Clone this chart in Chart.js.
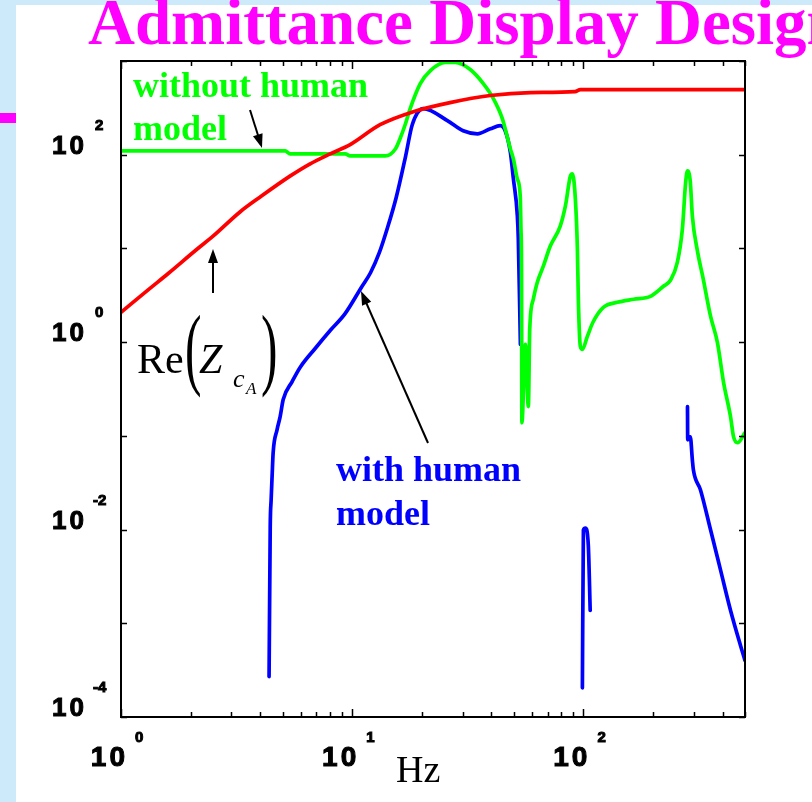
<!DOCTYPE html>
<html><head><meta charset="utf-8">
<script src="https://cdn.jsdelivr.net/npm/chart.js@4.4.1/dist/chart.umd.min.js"></script>
<style>html,body{margin:0;padding:0;background:#fff;overflow:hidden}canvas{display:block}</style>
</head><body>
<canvas id="c" width="812" height="802"></canvas>
<script>
// ---- data ----
const redHz  = [1, 1.33, 1.6, 2.13, 2.5, 3.27, 4.0, 5.4, 6.58, 8.03, 9.8, 13.2, 18.4, 26.5, 39.5, 59, 92, 97, 195, 500];
const redRe  = [2.08, 3.72, 5.4, 9.8, 13.5, 24.5, 35.4, 59.4, 80, 102, 128, 209, 288, 360, 428, 460, 472, 496, 496, 496];

const greenHz  = [1, 5.13, 5.39, 9.33, 9.8, 13.9, 15.4, 16.1, 17.0, 17.8, 19.7, 21.8, 25.3, 27.9, 32.4, 36.9, 40.8, 44.6, 48.3, 49.8, 51.8, 53.3, 53.7, 54.0, 54.2, 56.1, 57.8, 58.6, 60.7, 63.2, 67.1, 71.9, 79.4, 83.6, 87.9, 89.6, 92.3, 94.2, 95.1, 97.0, 99.0, 104, 110, 122, 140, 165, 195, 222, 238, 255, 268, 277, 282, 290, 296, 312, 328, 355, 380, 404, 433, 446, 464, 500];
const greenAdm = [110, 110, 102, 102, 97, 97, 116, 148, 214, 309, 574, 791, 964, 964, 811, 574, 397, 243, 116, 90, 55, 36.3, 16.1, 6.46, 0.138, 0.95, 0.205, 1.37, 2.86, 4.36, 6.46, 10.6, 17.3, 28.4, 59.4, 62.5, 33.7, 9.84, 2.87, 0.9, 0.835, 1.15, 1.63, 2.35, 2.66, 2.87, 3.08, 3.95, 4.58, 7.13, 16.1, 51.3, 67.3, 51.3, 22.1, 9.12, 5.05, 1.88, 0.99, 0.37, 0.16, 0.098, 0.0844, 0.108];

// null values break the blue line into its three visible pieces
const blueHz  = [4.37, 4.42, 4.46, 4.51, 4.55, 4.73, 4.88, 5.03, 5.5, 5.96, 6.9, 8.03, 9.3, 11.0, 12.0, 13.1, 14.2, 15.5, 17.0, 18.2, 20.3, 25.8, 30.2, 34.8, 39.6, 43.7, 45.9, 48.3, 49.8, 51.8, 52.3, 53.4,
                 75,
                 99.0, 100, 102, 105, 107,
                 200,
                 282, 282.6, 290, 296, 299, 321, 355, 392, 433, 478, 500];
const blueAdm = [2.7e-4, 0.0106, 0.0207, 0.0403, 0.066, 0.116, 0.16, 0.244, 0.38, 0.54, 0.85, 1.33, 2.0, 3.9, 5.5, 9.0, 16.5, 35, 95, 210, 310, 231, 180, 167, 189, 204, 180, 107, 55.2, 22.2, 12.6, 0.945,
                 null,
                 2.05e-4, 0.00989, 0.0104, 0.00683, 0.00137,
                 null,
                 0.205, 0.0908, 0.0978, 0.0555, 0.0434, 0.0265, 0.00989, 0.00369, 0.00137, 5.8e-4, 4.0e-4];

const xRange = [1, 500];
const yRange = [1e-4, 1e3];
const xLabelExps = [0, 1, 2];
const yLabelExps = [2, 0, -2, -4];
const yTickExps = [-4, -3, -2, -1, 0, 1, 2, 3];
const xTickDecades = [0, 1, 2];
const title = 'Admittance Display Design';

// ---- helpers ----
const pts = (xs, ys) => xs.map((x, i) => ({x: x, y: ys[i]}));
function arrow(ctx, x1, y1, x2, y2) {
  const ang = Math.atan2(y2 - y1, x2 - x1), L = 14, W = 5;
  ctx.beginPath(); ctx.moveTo(x1, y1);
  ctx.lineTo(x2 - Math.cos(ang) * L * 0.8, y2 - Math.sin(ang) * L * 0.8); ctx.stroke();
  ctx.beginPath(); ctx.moveTo(x2, y2);
  ctx.lineTo(x2 - Math.cos(ang) * L - Math.sin(ang) * W, y2 - Math.sin(ang) * L + Math.cos(ang) * W);
  ctx.lineTo(x2 - Math.cos(ang) * L + Math.sin(ang) * W, y2 - Math.sin(ang) * L - Math.cos(ang) * W);
  ctx.closePath(); ctx.fill();
}
function heavyText(ctx, s, x, y) { ctx.fillText(s, x, y); ctx.strokeText(s, x, y); }

const decor = {
  id: 'decor',
  beforeDraw(chart) {
    const ctx = chart.ctx;
    ctx.save();
    ctx.fillStyle = '#ffffff'; ctx.fillRect(0, 0, chart.width, chart.height);
    ctx.fillStyle = '#cdeafb';
    ctx.fillRect(0, 0, 16, chart.height);
    ctx.fillRect(0, 0, chart.width, 5);
    ctx.fillStyle = '#ff00ff';
    ctx.fillRect(0, 113, 16, 10);
    ctx.font = 'bold 65px "Liberation Serif", "Times New Roman", serif';
    ctx.textBaseline = 'alphabetic'; ctx.textAlign = 'left';
    ctx.fillText(title, 88, 44);
    ctx.restore();
  },
  afterDraw(chart) {
    const ctx = chart.ctx, a = chart.chartArea, xs = chart.scales.x, ys = chart.scales.y;
    ctx.save();
    // frame
    ctx.strokeStyle = '#000'; ctx.lineWidth = 2;
    ctx.strokeRect(a.left, a.top, a.right - a.left, a.bottom - a.top);
    // ticks (inward)
    ctx.lineWidth = 1.5;
    ctx.beginPath();
    yTickExps.forEach(e => {
      const py = Math.round(ys.getPixelForValue(Math.pow(10, e))) + 0.5;
      ctx.moveTo(a.left, py); ctx.lineTo(a.left + 6, py);
      ctx.moveTo(a.right, py); ctx.lineTo(a.right - 6, py);
    });
    xTickDecades.forEach(d => {
      for (let m = 1; m <= 9; m++) {
        const f = m * Math.pow(10, d);
        if (f > xRange[1]) break;
        const px = Math.round(xs.getPixelForValue(f)) + 0.5, len = m === 1 ? 8 : 5;
        ctx.moveTo(px, a.bottom); ctx.lineTo(px, a.bottom - len);
        ctx.moveTo(px, a.top); ctx.lineTo(px, a.top + len);
      }
    });
    ctx.stroke();
    // tick labels
    ctx.fillStyle = '#000'; ctx.strokeStyle = '#000'; ctx.lineWidth = 1; ctx.textBaseline = 'alphabetic';
    const big = (s) => 'bold ' + s + 'px "Liberation Sans Narrow", "Liberation Sans", Arial, sans-serif';
    yLabelExps.forEach(e => {
      const py = ys.getPixelForValue(Math.pow(10, e));
      ctx.font = big(26); ctx.textAlign = 'right';
      ctx.letterSpacing = '3px';
      heavyText(ctx, '10', 87, py - 1);
      ctx.letterSpacing = '0px';
      ctx.font = big(15); ctx.textAlign = 'left';
      heavyText(ctx, String(e), e < 0 ? 93 : 95, py - 25);
    });
    xLabelExps.forEach(e => {
      const px = xs.getPixelForValue(Math.pow(10, e));
      ctx.font = big(28); ctx.textAlign = 'right';
      ctx.letterSpacing = '3px';
      heavyText(ctx, '10', px + 7, 766);
      ctx.letterSpacing = '0px';
      ctx.font = big(15); ctx.textAlign = 'left';
      heavyText(ctx, String(e), px + 14, 742);
    });
    // axis title
    ctx.font = '38px "Liberation Serif", "Times New Roman", serif';
    ctx.fillText('Hz', 396, 782);
    // annotations
    const serifB = 'bold 36px "Liberation Serif", "Times New Roman", serif';
    ctx.font = serifB; ctx.fillStyle = '#00ff00';
    ctx.fillText('without human', 133, 97);
    ctx.fillText('model', 133, 140);
    ctx.fillStyle = '#0000ff';
    ctx.fillText('with human', 336, 481);
    ctx.fillText('model', 336, 525);
    // Re(Z_cA)
    ctx.fillStyle = '#000';
    ctx.font = '42px "Liberation Serif", "Times New Roman", serif';
    ctx.fillText('Re', 137, 373);
    ctx.save(); ctx.translate(185, 0); ctx.scale(0.55, 1);
    ctx.font = '90px "Liberation Serif", "Times New Roman", serif';
    ctx.fillText('(', 0, 378); ctx.restore();
    ctx.save(); ctx.translate(261, 0); ctx.scale(0.55, 1);
    ctx.font = '90px "Liberation Serif", "Times New Roman", serif';
    ctx.fillText(')', 0, 378); ctx.restore();
    ctx.font = 'italic 42px "Liberation Serif", "Times New Roman", serif';
    ctx.fillText('Z', 199, 373);
    ctx.font = 'italic 26px "Liberation Serif", "Times New Roman", serif';
    ctx.fillText('c', 233, 387);
    ctx.font = 'italic 17px "Liberation Serif", "Times New Roman", serif';
    ctx.fillText('A', 246, 394);
    // arrows
    ctx.strokeStyle = '#000'; ctx.fillStyle = '#000'; ctx.lineWidth = 2;
    arrow(ctx, 250, 110, 262, 148);
    arrow(ctx, 213, 293, 213, 249);
    arrow(ctx, 428, 443, 361, 291);
    ctx.restore();
  }
};

const common = {borderWidth: 3.7, pointRadius: 0, cubicInterpolationMode: 'monotone', fill: false, spanGaps: false, borderJoinStyle: 'round', borderCapStyle: 'round'};
new Chart(document.getElementById('c'), {
  type: 'line',
  data: {
    datasets: [
      Object.assign({label: 'Re(Z_cA)', data: pts(redHz, redRe), borderColor: '#ff0000'}, common),
      Object.assign({label: 'without human model', data: pts(greenHz, greenAdm), borderColor: '#00ff00'}, common),
      Object.assign({label: 'with human model', data: pts(blueHz, blueAdm), borderColor: '#0000ff'}, common)
    ]
  },
  options: {
    responsive: false, animation: false, devicePixelRatio: 1,
    layout: {padding: {left: 121, top: 61, right: 67, bottom: 85}},
    plugins: {legend: {display: false}, tooltip: {enabled: false}, title: {display: false}},
    scales: {
      x: {type: 'logarithmic', min: xRange[0], max: xRange[1], display: false},
      y: {type: 'logarithmic', min: yRange[0], max: yRange[1], display: false}
    }
  },
  plugins: [decor]
});
</script>
</body></html>
